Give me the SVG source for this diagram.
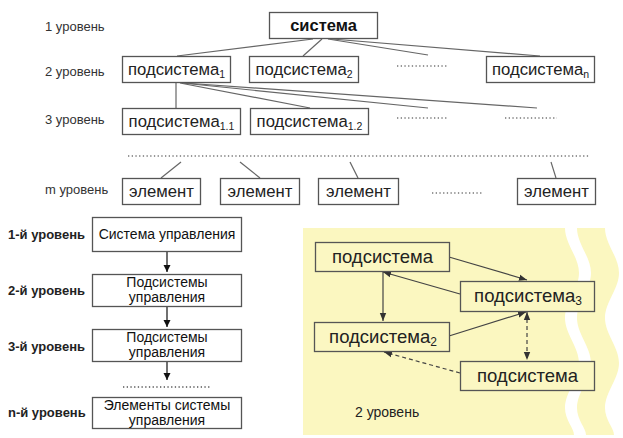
<svg xmlns="http://www.w3.org/2000/svg" width="623" height="438" viewBox="0 0 623 438">
<style>
.lbl{font-family:"Liberation Sans",Arial,sans-serif;font-size:13px;fill:#333}
.lblb{font-family:"Liberation Sans",Arial,sans-serif;font-size:13px;font-weight:bold;fill:#222}
.t{font-family:"Liberation Sans",Arial,sans-serif;font-size:16.7px;fill:#222}
.tb{font-family:"Liberation Sans",Arial,sans-serif;font-size:16.5px;font-weight:bold;fill:#111}
.t2{font-family:"Liberation Sans",Arial,sans-serif;font-size:14px;fill:#111}
.ty{font-family:"Liberation Sans",Arial,sans-serif;font-size:18.5px;fill:#222}
.box{fill:#fff;stroke:#555;stroke-width:1.3}
.boxy{fill:#fbf7c2;stroke:#555;stroke-width:1.3}
.ln{stroke:#666;stroke-width:1.2;fill:none}
.dots{stroke:#777;stroke-width:1.3;stroke-dasharray:1.3 2.4;fill:none}
.arr{stroke:#111;stroke-width:1.2;fill:none}
.ay{stroke:#444;stroke-width:1.2;fill:none}
.dash{stroke-dasharray:4 3}
.sub{font-size:10.5px}
</style>
<defs>
<marker id="ah" markerUnits="userSpaceOnUse" markerWidth="8" markerHeight="8" refX="7" refY="4" orient="auto">
<path d="M0,0.5 L7,4 L0,7.5 Z" fill="#111"/>
</marker>
<marker id="ahy" markerUnits="userSpaceOnUse" markerWidth="9" markerHeight="8" refX="8" refY="4" orient="auto-start-reverse">
<path d="M0,0.8 L8,4 L0,7.2 Z" fill="#333"/>
</marker>
</defs>

<!-- yellow panel background -->
<g id="panel">
<path d="M303,228 H565 C565,244 579,257 579,273 C579,289 565,302 565,318 C565,334 579,347 579,363 C579,379 565,392 565,408 C565,420 574,428 574,435 H303 Z" fill="#fbf7c0"/>
<path d="M577,228 C577,244 591,257 591,273 C591,289 577,302 577,318 C577,334 591,347 591,363 C591,379 577,392 577,408 C577,420 586,428 586,435 L614,435 C614,428 605,420 605,408 C605,392 619,379 619,363 C619,347 605,334 605,318 C605,302 619,289 619,273 C619,257 605,244 605,228 Z" fill="#fbf7c0"/>
</g>

<!-- level labels -->
<g id="labels">
<text class="lbl" x="45" y="31">1 уровень</text>
<text class="lbl" x="45" y="76">2 уровень</text>
<text class="lbl" x="45" y="124">3 уровень</text>
<text class="lbl" x="45" y="194">m уровень</text>
<text class="lblb" x="8" y="239">1-й уровень</text>
<text class="lblb" x="8" y="295">2-й уровень</text>
<text class="lblb" x="8" y="351">3-й уровень</text>
<text class="lblb" x="8" y="417">n-й уровень</text>
<text class="lbl" x="355" y="417" style="font-size:14px;fill:#222">2 уровень</text>
</g>

<!-- connectors -->
<g id="connectors">
<path class="ln" d="M313,39 L177,56"/>
<path class="ln" d="M322,39 L303,56"/>
<path class="ln" d="M328,39 L428,55"/>
<path class="ln" d="M332,39 L540,56"/>
<path class="ln" d="M176,82 L176,108"/>
<path class="ln" d="M180,83 L310,108"/>
<path class="ln" d="M182,83 L428,108"/>
<path class="ln" d="M184,83 L537,108"/>
<path class="dots" d="M397,66 H448"/>
<path class="dots" d="M397,118 H448"/>
<path class="dots" d="M505,118 H557"/>
<path class="dots" d="M128,156 H590"/>
<path class="dots" d="M432,193 H483"/>
<path class="ln" d="M181,162 L161,178"/>
<path class="ln" d="M240,162 L260,178"/>
<path class="ln" d="M350,162 L358,178"/>
<path class="ln" d="M551,162 L556,178"/>
<path class="arr" d="M167,251 V272" marker-end="url(#ah)"/>
<path class="arr" d="M167,306 V327" marker-end="url(#ah)"/>
<path class="arr" d="M167,361 V380" marker-end="url(#ah)"/>
<path class="dots" d="M123,387 H210" style="stroke:#555"/>
<path class="ay" d="M449,257 L527,280" marker-end="url(#ahy)"/>
<path class="ay" d="M460,294 L383,272" marker-end="url(#ahy)"/>
<path class="ay" d="M383,272 V321" marker-end="url(#ahy)"/>
<path class="ay" d="M449,336 L526,312" marker-end="url(#ahy)"/>
<path class="ay dash" d="M527,312 V360" marker-start="url(#ahy)" marker-end="url(#ahy)"/>
<path class="ay dash" d="M460,373 L384,352" marker-end="url(#ahy)"/>
</g>

<!-- hierarchy nodes -->
<g id="n-sistema"><rect class="box" x="269.5" y="12.5" width="108" height="26"/><text class="tb" x="323.5" y="31" text-anchor="middle">система</text></g>
<g id="n-p1"><rect class="box" x="122.5" y="56.5" width="108" height="26"/><text class="t" x="176.5" y="75" text-anchor="middle">подсистема<tspan class="sub" dy="3">1</tspan></text></g>
<g id="n-p2"><rect class="box" x="249.5" y="56.5" width="109" height="26"/><text class="t" x="304" y="75" text-anchor="middle">подсистема<tspan class="sub" dy="3">2</tspan></text></g>
<g id="n-pn"><rect class="box" x="486.5" y="56.5" width="108" height="26"/><text class="t" x="540.5" y="75" text-anchor="middle">подсистема<tspan class="sub" dy="3">n</tspan></text></g>
<g id="n-p11"><rect class="box" x="122.5" y="108.5" width="118" height="26"/><text class="t" x="181.5" y="127" text-anchor="middle">подсистема<tspan class="sub" dy="3">1.1</tspan></text></g>
<g id="n-p12"><rect class="box" x="250.5" y="108.5" width="118" height="26"/><text class="t" x="309.5" y="127" text-anchor="middle">подсистема<tspan class="sub" dy="3">1.2</tspan></text></g>
<g id="n-e1"><rect class="box" x="122.5" y="178.5" width="78" height="26"/><text class="t" x="161.5" y="197" text-anchor="middle">элемент</text></g>
<g id="n-e2"><rect class="box" x="220.5" y="178.5" width="79" height="26"/><text class="t" x="260" y="197" text-anchor="middle">элемент</text></g>
<g id="n-e3"><rect class="box" x="318.5" y="178.5" width="80" height="26"/><text class="t" x="358.5" y="197" text-anchor="middle">элемент</text></g>
<g id="n-e4"><rect class="box" x="517.5" y="178.5" width="78" height="26"/><text class="t" x="556.5" y="197" text-anchor="middle">элемент</text></g>

<!-- control levels -->
<g id="c1"><rect class="box" x="92.5" y="217.5" width="149" height="34"/><text class="t2" x="167" y="239" text-anchor="middle">Система управления</text></g>
<g id="c2"><rect class="box" x="92.5" y="274.5" width="149" height="32"/><text class="t2" x="167" y="287" text-anchor="middle">Подсистемы</text><text class="t2" x="167" y="302" text-anchor="middle">управления</text></g>
<g id="c3"><rect class="box" x="92.5" y="329.5" width="149" height="32"/><text class="t2" x="167" y="342" text-anchor="middle">Подсистемы</text><text class="t2" x="167" y="357" text-anchor="middle">управления</text></g>
<g id="c4"><rect class="box" x="92.5" y="397.5" width="149" height="31"/><text class="t2" x="167" y="410" text-anchor="middle">Элементы системы</text><text class="t2" x="167" y="425" text-anchor="middle">управления</text></g>

<!-- yellow panel nodes -->
<g id="y1"><rect class="boxy" x="315.5" y="242.5" width="134" height="29"/><text class="ty" x="382.5" y="263" text-anchor="middle">подсистема</text></g>
<g id="y3"><rect class="boxy" x="460.5" y="281.5" width="134" height="30"/><text class="ty" x="528" y="302" text-anchor="middle">подсистема<tspan class="sub" style="font-size:12px" dy="3">3</tspan></text></g>
<g id="y2"><rect class="boxy" x="314.5" y="322.5" width="135" height="29"/><text class="ty" x="383" y="343" text-anchor="middle">подсистема<tspan class="sub" style="font-size:12px" dy="3">2</tspan></text></g>
<g id="y4"><rect class="boxy" x="460.5" y="361.5" width="134" height="29"/><text class="ty" x="527.5" y="382" text-anchor="middle">подсистема</text></g>
</svg>
